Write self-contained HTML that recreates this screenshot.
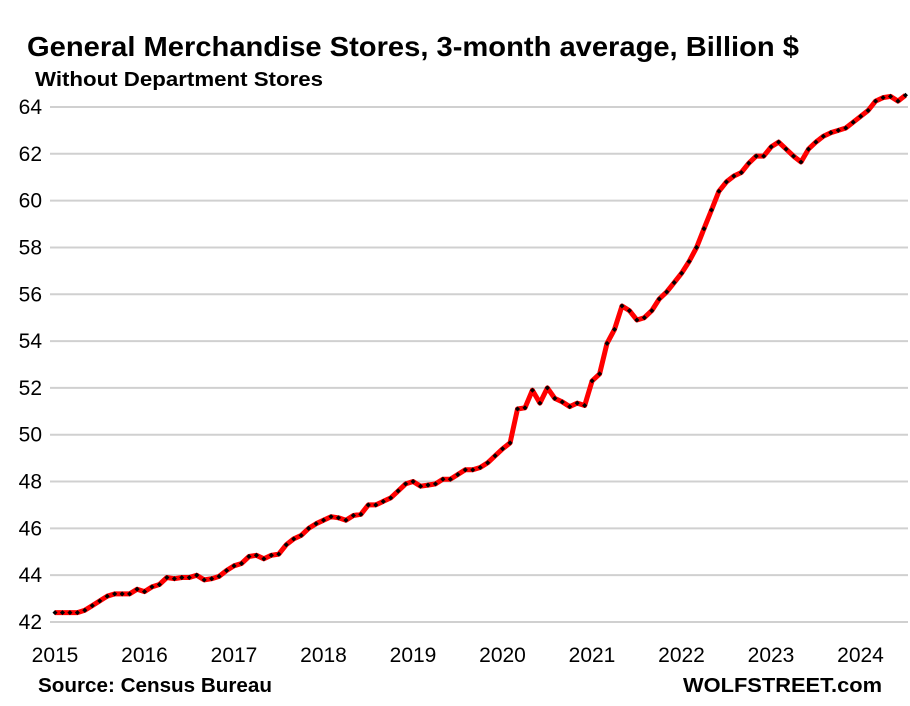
<!DOCTYPE html>
<html><head><meta charset="utf-8"><style>
body{margin:0;background:#fff;}
svg{display:block;font-family:"Liberation Sans",Calibri,sans-serif;}
</style></head><body>
<svg id="c" width="910" height="706" viewBox="0 0 910 706" xmlns="http://www.w3.org/2000/svg">
<rect width="910" height="706" fill="#fff"/>
<text x="27" y="56" font-size="28" font-weight="bold" fill="#000" textLength="772" lengthAdjust="spacingAndGlyphs">General Merchandise Stores, 3-month average, Billion $</text>
<text x="35" y="86" font-size="20" font-weight="bold" fill="#000" textLength="288" lengthAdjust="spacingAndGlyphs">Without Department Stores</text>
<g id="grid" stroke="#d0d0d0" stroke-width="2"></g>
<g id="ylab" font-size="21" fill="#000" text-anchor="end"></g>
<g id="xlab" font-size="21" fill="#000" text-anchor="middle"></g>
<g id="series"></g>
<text x="38" y="692" font-size="20" font-weight="bold" fill="#000" textLength="234" lengthAdjust="spacingAndGlyphs">Source: Census Bureau</text>
<text x="683" y="692" font-size="20" font-weight="bold" fill="#000" textLength="199" lengthAdjust="spacingAndGlyphs">WOLFSTREET.com</text>
</svg>
<script>
var ns="http://www.w3.org/2000/svg";
function el(t,a,p,txt){var e=document.createElementNS(ns,t);for(var k in a)e.setAttribute(k,a[k]);if(txt!==undefined)e.textContent=txt;document.getElementById(p).appendChild(e);return e;}
function Y(v){return 622-(v-42)*23.41;}
for(var v=42;v<=64;v+=2){var y=Y(v);el("line",{x1:50,x2:908,y1:y,y2:y},"grid");el("text",{x:42,y:y+7},"ylab",String(v));}
for(var i=0;i<10;i++){el("text",{x:55+i*89.5,y:662},"xlab",String(2015+i));}
var d=[42.4,42.4,42.4,42.4,42.5,42.7,42.9,43.1,43.2,43.2,43.2,43.4,
43.3,43.5,43.6,43.9,43.85,43.9,43.9,44.0,43.8,43.85,43.95,44.2,
44.4,44.5,44.8,44.85,44.7,44.85,44.9,45.3,45.55,45.7,46.0,46.2,
46.35,46.5,46.45,46.35,46.55,46.6,47.0,47.0,47.15,47.3,47.6,47.9,
48.0,47.8,47.85,47.9,48.1,48.1,48.3,48.5,48.5,48.6,48.8,49.1,
49.4,49.65,51.1,51.15,51.9,51.35,52.0,51.55,51.4,51.2,51.35,51.25,
52.3,52.6,53.9,54.5,55.5,55.3,54.9,55.0,55.3,55.8,56.1,56.5,
56.9,57.4,58.0,58.8,59.6,60.4,60.8,61.05,61.2,61.6,61.9,61.9,
62.3,62.5,62.2,61.9,61.65,62.2,62.5,62.75,62.9,63.0,63.1,63.35,
63.6,63.85,64.25,64.4,64.45,64.25,64.5];
var pts=d.map(function(v,i){return (55+i*7.46).toFixed(1)+","+Y(v).toFixed(1);});
el("polyline",{points:pts.join(" "),fill:"none",stroke:"#ff0000","stroke-width":5,"stroke-linejoin":"round"},"series");
d.forEach(function(v,i){var x=55+i*7.46,y=Y(v);el("rect",{x:x-1.8,y:y-1.8,width:3.6,height:3.6,fill:"#000",transform:"rotate(45 "+x+" "+y+")"},"series");});
</script>
</body></html>
